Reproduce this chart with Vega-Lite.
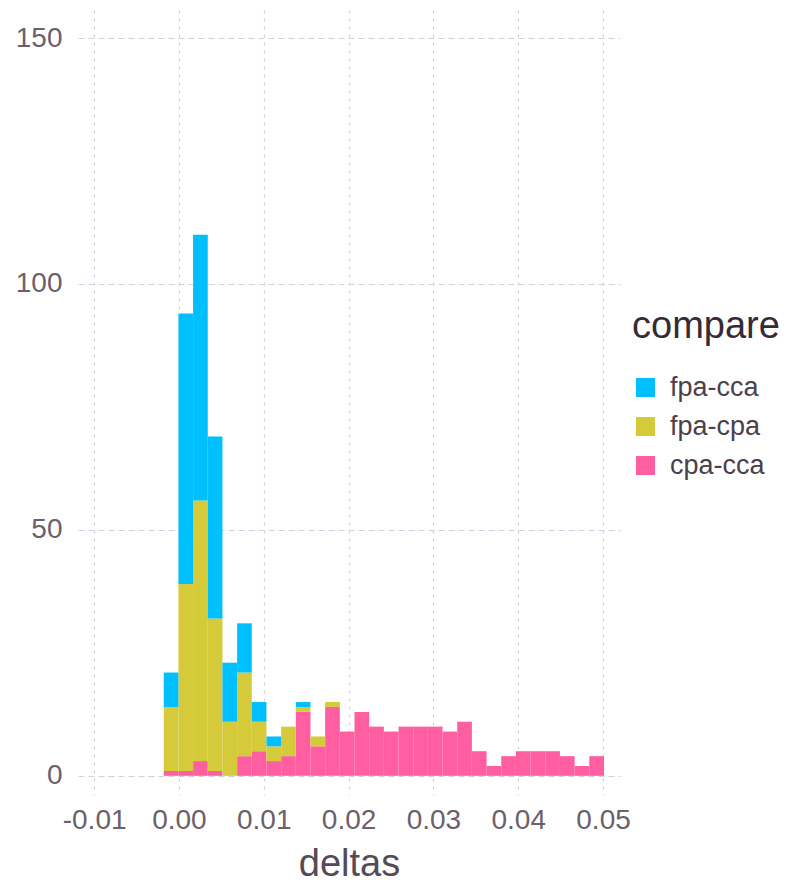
{
  "$schema": "https://vega.github.io/schema/vega-lite/v6.json",
  "width": 542,
  "height": 785,
  "autosize": {"type": "none"},
  "padding": {"left": 78, "top": 10, "right": 180, "bottom": 101},
  "background": "white",
  "config": {
    "view": {"stroke": null},
    "font": "Liberation Sans"
  },
  "data": {
    "values": [
      {"start": -0.00185, "end": -0.00012, "compare": "cpa-cca", "count": 1},
      {"start": -0.00012, "end": 0.00161, "compare": "cpa-cca", "count": 1},
      {"start": 0.00161, "end": 0.00334, "compare": "cpa-cca", "count": 3},
      {"start": 0.00334, "end": 0.00507, "compare": "cpa-cca", "count": 1},
      {"start": 0.00680, "end": 0.00853, "compare": "cpa-cca", "count": 4},
      {"start": 0.00853, "end": 0.01026, "compare": "cpa-cca", "count": 5},
      {"start": 0.01026, "end": 0.01199, "compare": "cpa-cca", "count": 3},
      {"start": 0.01199, "end": 0.01372, "compare": "cpa-cca", "count": 4},
      {"start": 0.01372, "end": 0.01545, "compare": "cpa-cca", "count": 13},
      {"start": 0.01545, "end": 0.01718, "compare": "cpa-cca", "count": 6},
      {"start": 0.01718, "end": 0.01891, "compare": "cpa-cca", "count": 14},
      {"start": 0.01891, "end": 0.02064, "compare": "cpa-cca", "count": 9},
      {"start": 0.02064, "end": 0.02237, "compare": "cpa-cca", "count": 13},
      {"start": 0.02237, "end": 0.02410, "compare": "cpa-cca", "count": 10},
      {"start": 0.02410, "end": 0.02583, "compare": "cpa-cca", "count": 9},
      {"start": 0.02583, "end": 0.02756, "compare": "cpa-cca", "count": 10},
      {"start": 0.02756, "end": 0.02929, "compare": "cpa-cca", "count": 10},
      {"start": 0.02929, "end": 0.03102, "compare": "cpa-cca", "count": 10},
      {"start": 0.03102, "end": 0.03275, "compare": "cpa-cca", "count": 9},
      {"start": 0.03275, "end": 0.03448, "compare": "cpa-cca", "count": 11},
      {"start": 0.03448, "end": 0.03621, "compare": "cpa-cca", "count": 5},
      {"start": 0.03621, "end": 0.03794, "compare": "cpa-cca", "count": 2},
      {"start": 0.03794, "end": 0.03967, "compare": "cpa-cca", "count": 4},
      {"start": 0.03967, "end": 0.04140, "compare": "cpa-cca", "count": 5},
      {"start": 0.04140, "end": 0.04313, "compare": "cpa-cca", "count": 5},
      {"start": 0.04313, "end": 0.04486, "compare": "cpa-cca", "count": 5},
      {"start": 0.04486, "end": 0.04659, "compare": "cpa-cca", "count": 4},
      {"start": 0.04659, "end": 0.04832, "compare": "cpa-cca", "count": 2},
      {"start": 0.04832, "end": 0.05005, "compare": "cpa-cca", "count": 4},
      {"start": -0.00185, "end": -0.00012, "compare": "fpa-cpa", "count": 13},
      {"start": -0.00012, "end": 0.00161, "compare": "fpa-cpa", "count": 38},
      {"start": 0.00161, "end": 0.00334, "compare": "fpa-cpa", "count": 53},
      {"start": 0.00334, "end": 0.00507, "compare": "fpa-cpa", "count": 31},
      {"start": 0.00507, "end": 0.00680, "compare": "fpa-cpa", "count": 11},
      {"start": 0.00680, "end": 0.00853, "compare": "fpa-cpa", "count": 17},
      {"start": 0.00853, "end": 0.01026, "compare": "fpa-cpa", "count": 6},
      {"start": 0.01026, "end": 0.01199, "compare": "fpa-cpa", "count": 3},
      {"start": 0.01199, "end": 0.01372, "compare": "fpa-cpa", "count": 6},
      {"start": 0.01372, "end": 0.01545, "compare": "fpa-cpa", "count": 1},
      {"start": 0.01545, "end": 0.01718, "compare": "fpa-cpa", "count": 2},
      {"start": 0.01718, "end": 0.01891, "compare": "fpa-cpa", "count": 1},
      {"start": -0.00185, "end": -0.00012, "compare": "fpa-cca", "count": 7},
      {"start": -0.00012, "end": 0.00161, "compare": "fpa-cca", "count": 55},
      {"start": 0.00161, "end": 0.00334, "compare": "fpa-cca", "count": 54},
      {"start": 0.00334, "end": 0.00507, "compare": "fpa-cca", "count": 37},
      {"start": 0.00507, "end": 0.00680, "compare": "fpa-cca", "count": 12},
      {"start": 0.00680, "end": 0.00853, "compare": "fpa-cca", "count": 10},
      {"start": 0.00853, "end": 0.01026, "compare": "fpa-cca", "count": 4},
      {"start": 0.01026, "end": 0.01199, "compare": "fpa-cca", "count": 2},
      {"start": 0.01372, "end": 0.01545, "compare": "fpa-cca", "count": 1}
    ]
  },
  "transform": [
    {"calculate": "indexof(['cpa-cca', 'fpa-cpa', 'fpa-cca'], datum.compare)", "as": "stackOrder"}
  ],
  "mark": {"type": "bar", "strokeWidth": 0, "opacity": 1, "binSpacing": 0},
  "encoding": {
    "x": {
      "field": "start",
      "type": "quantitative",
      "bin": "binned",
      "scale": {"domain": [-0.0119, 0.052], "nice": false, "zero": false},
      "axis": {
        "title": "deltas",
        "values": [-0.01, 0, 0.01, 0.02, 0.03, 0.04, 0.05],
        "labelExpr": "replace(format(datum.value, '.2f'), '\u2212', '-')",
        "grid": true,
        "domain": false,
        "ticks": false,
        "tickSize": 0,
        "labelFontSize": 28,
        "labelColor": "#6C606B",
        "labelPadding": 11,
        "labelFlush": false,
        "titleFontSize": 38,
        "titleFontWeight": "normal",
        "titleColor": "#564A55",
        "titlePadding": 11,
        "gridColor": "#D0D0E0",
        "gridDash": [3, 5],
        "gridWidth": 1.2
      }
    },
    "x2": {"field": "end"},
    "y": {
      "field": "count",
      "type": "quantitative",
      "stack": "zero",
      "scale": {"domain": [-3.9, 155.7], "nice": false, "zero": false},
      "axis": {
        "title": null,
        "values": [0, 50, 100, 150],
        "domain": false,
        "ticks": false,
        "tickSize": 0,
        "labelFontSize": 28,
        "labelColor": "#6C606B",
        "labelPadding": 16,
        "labelFlush": false,
        "gridColor": "#D0D0E0",
        "gridDash": [6, 4],
        "gridWidth": 1.2
      }
    },
    "order": {"field": "stackOrder", "type": "quantitative", "sort": "ascending"},
    "color": {
      "field": "compare",
      "type": "nominal",
      "scale": {
        "domain": ["fpa-cca", "fpa-cpa", "cpa-cca"],
        "range": ["#00BFFF", "#D4CA3A", "#FF5EA0"]
      },
      "legend": {
        "orient": "none",
        "legendX": 554,
        "legendY": 298,
        "title": "compare",
        "titleFontSize": 38,
        "titleFontWeight": "normal",
        "titleColor": "#362A35",
        "titlePadding": 28,
        "labelFontSize": 27,
        "labelColor": "#4C404B",
        "labelOffset": 11,
        "symbolType": "square",
        "symbolSize": 361,
        "symbolStrokeWidth": 0,
        "symbolOpacity": 1,
        "rowPadding": 11
      }
    }
  }
}
